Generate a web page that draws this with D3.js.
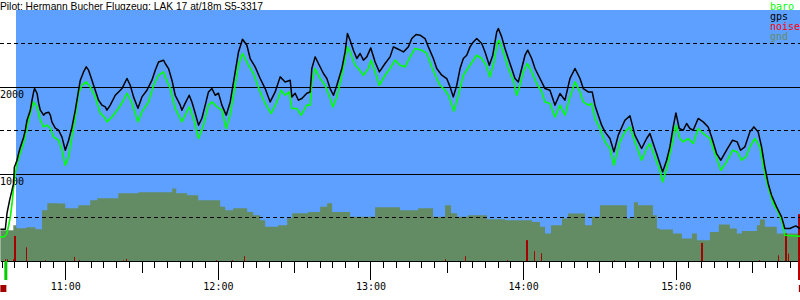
<!DOCTYPE html>
<html><head><meta charset="utf-8">
<script src="https://cdn.jsdelivr.net/npm/d3@7"></script>
<style>body{margin:0;background:#fff}svg{display:block}</style>
</head><body><svg id="c" width="800" height="300"></svg>
<script>
const titleText = "Pilot: Hermann Bucher Flugzeug: LAK 17 at/18m S5-3317";
const legendLabels = ["baro", "gps", "noise", "gnd"];
const gridLevels = [500, 1000, 1500, 2000, 2500];
const labelLevels = [1000, 2000];

const gps = [["10:34:28",371],["10:36:25",371],["10:37:05",555],["10:38:07",705],["10:39:41",900],["10:39:58",1084],["10:41:01",1164],["10:41:39",1245],["10:42:19",1314],["10:43:37",1429],["10:44:17",1509],["10:44:57",1624],["10:46:15",1739],["10:46:55",1854],["10:47:32",1946],["10:47:56",1988],["10:48:53",1934],["10:49:31",1820],["10:50:11",1739],["10:51:28",1682],["10:52:08",1705],["10:53:26",1716],["10:54:07",1682],["10:54:46",1601],["10:56:04",1532],["10:57:22",1509],["10:58:42",1429],["11:00:00",1279],["11:01:18",1394],["11:02:38",1544],["11:03:56",1739],["11:05:14",1969],["11:05:54",2084],["11:07:11",2179],["11:08:15",2237],["11:09:09",2199],["11:10:29",2084],["11:11:47",1969],["11:13:05",1854],["11:14:25",1797],["11:15:43",1777],["11:16:23",1739],["11:17:41",1797],["11:19:39",1911],["11:20:57",1949],["11:22:17",1988],["11:24:15",2103],["11:25:32",2026],["11:26:50",1892],["11:28:34",1762],["11:30:08",1892],["11:32:06",1969],["11:34:04",2084],["11:35:22",2199],["11:36:40",2294],["11:38:37",2314],["11:39:18",2276],["11:40:35",2218],["11:41:56",2084],["11:43:13",1911],["11:45:11",1797],["11:45:51",1739],["11:47:09",1820],["11:48:43",1911],["11:49:47",1834],["11:51:05",1705],["11:52:23",1567],["11:53:43",1647],["11:55:01",1797],["11:56:18",1949],["11:57:39",1988],["11:58:56",1911],["12:00:14",1934],["12:01:34",1797],["12:03:16",1682],["12:04:50",1834],["12:06:48",2179],["12:08:06",2409],["12:09:40",2555],["12:11:24",2486],["12:12:41",2333],["12:14:39",2237],["12:16:37",2103],["12:18:35",1988],["12:20:33",1834],["12:22:31",1949],["12:24:29",2122],["12:26:27",2064],["12:28:25",2084],["12:29:05",1892],["12:30:22",1934],["12:31:40",1854],["12:33:01",1874],["12:34:58",1934],["12:36:16",1949],["12:36:56",2218],["12:38:14",2352],["12:39:32",2276],["12:41:30",2161],["12:42:50",2103],["12:44:08",1988],["12:45:26",1911],["12:46:46",2026],["12:48:44",2218],["12:50:01",2409],["12:50:56",2621],["12:51:59",2544],["12:53:17",2429],["12:54:37",2333],["12:55:55",2391],["12:57:13",2314],["12:58:33",2352],["13:00:07",2455],["13:01:49",2294],["13:03:30",2179],["13:05:44",2276],["13:07:42",2352],["13:09:00",2467],["13:10:20",2448],["13:11:38",2429],["13:12:56",2409],["13:14:53",2467],["13:16:14",2563],["13:17:55",2609],["13:19:29",2601],["13:21:27",2563],["13:22:45",2467],["13:24:43",2333],["13:26:03",2218],["13:28:01",2141],["13:29:59",2103],["13:31:17",2007],["13:32:34",1892],["13:33:55",2026],["13:35:13",2218],["13:36:30",2333],["13:37:50",2371],["13:39:08",2467],["13:40:26",2524],["13:41:46",2563],["13:43:44",2505],["13:45:02",2409],["13:46:43",2256],["13:48:04",2371],["13:49:38",2639],["13:50:16",2678],["13:51:35",2582],["13:52:53",2448],["13:54:11",2333],["13:55:31",2218],["13:56:49",2103],["13:58:07",2064],["13:59:27",2218],["14:00:45",2371],["14:01:49",2429],["14:03:23",2333],["14:04:41",2218],["14:06:38",2103],["14:08:37",1988],["14:10:34",1969],["14:12:32",1797],["14:14:30",1931],["14:16:28",1854],["14:18:26",2103],["14:20:24",2218],["14:22:22",2103],["14:23:40",1988],["14:25:37",1949],["14:27:11",1949],["14:28:15",1797],["14:29:33",1682],["14:30:53",1567],["14:32:11",1490],["14:34:09",1414],["14:35:43",1260],["14:37:25",1452],["14:40:02",1624],["14:42:01",1674],["14:43:58",1452],["14:46:36",1299],["14:48:34",1414],["14:49:52",1471],["14:51:10",1356],["14:52:30",1241],["14:53:47",1126],["14:54:51",1030],["14:56:26",1164],["14:57:43",1317],["14:59:01",1547],["15:00:05",1708],["15:01:23",1529],["15:02:57",1509],["15:04:17",1586],["15:05:35",1529],["15:06:53",1509],["15:08:50",1644],["15:10:49",1605],["15:12:46",1547],["15:14:07",1432],["15:16:04",1241],["15:17:46",1164],["15:20:00",1279],["15:22:22",1394],["15:24:10",1375],["15:25:30",1279],["15:27:11",1317],["15:29:10",1490],["15:30:44",1547],["15:32:25",1490],["15:33:46",1317],["15:35:03",1087],["15:36:21",897],["15:37:41",762],["15:39:39",628],["15:41:37",513],["15:42:55",379],["15:44:53",379],["15:47:14",409],["15:48:49",379]];

const baro = [["10:34:28",283],["10:36:02",283],["10:37:05",325],["10:38:23",509],["10:39:04",670],["10:39:41",854],["10:40:21",1015],["10:41:01",1130],["10:42:19",1245],["10:43:37",1360],["10:44:57",1544],["10:46:15",1705],["10:47:32",1834],["10:48:53",1777],["10:50:11",1624],["10:51:28",1547],["10:52:49",1567],["10:54:07",1532],["10:55:24",1432],["10:57:22",1394],["10:58:42",1279],["11:00:00",1107],["11:01:18",1202],["11:02:38",1432],["11:03:56",1662],["11:05:14",1934],["11:06:34",2026],["11:08:15",2064],["11:09:49",2007],["11:11:47",1892],["11:13:45",1705],["11:15:43",1647],["11:16:23",1605],["11:18:21",1662],["11:20:57",1762],["11:22:55",1854],["11:24:15",1934],["11:26:13",1820],["11:28:34",1605],["11:30:08",1720],["11:32:44",1834],["11:34:42",2026],["11:36:40",2141],["11:38:37",2179],["11:39:18",2122],["11:41:16",1988],["11:43:13",1759],["11:45:51",1605],["11:48:43",1777],["11:50:25",1644],["11:52:23",1414],["11:54:20",1567],["11:56:18",1797],["11:57:39",1834],["11:59:37",1777],["12:01:34",1739],["12:03:16",1529],["12:04:50",1682],["12:06:48",2026],["12:08:06",2256],["12:09:40",2391],["12:12:02",2256],["12:14:00",2161],["12:16:37",1949],["12:18:35",1816],["12:20:57",1701],["12:23:11",1834],["12:24:52",1969],["12:26:27",1911],["12:28:01",1949],["12:29:05",1759],["12:31:03",1759],["12:32:44",1682],["12:34:58",1797],["12:36:16",1797],["12:36:56",2064],["12:38:14",2218],["12:40:12",2103],["12:42:10",2026],["12:44:08",1874],["12:45:11",1777],["12:46:46",1892],["12:48:44",2141],["12:50:01",2333],["12:50:56",2467],["12:51:59",2409],["12:53:57",2256],["12:55:15",2218],["12:57:13",2141],["12:59:11",2218],["13:00:14",2314],["13:01:49",2179],["13:03:30",2026],["13:05:44",2141],["13:07:42",2218],["13:09:40",2314],["13:11:38",2256],["13:13:36",2237],["13:15:34",2352],["13:17:32",2448],["13:20:10",2429],["13:22:08",2391],["13:24:05",2237],["13:26:03",2103],["13:27:21",2026],["13:29:19",1969],["13:30:37",1911],["13:32:51",1728],["13:34:32",1911],["13:36:30",2141],["13:39:08",2256],["13:41:46",2371],["13:43:44",2333],["13:45:25",2256],["13:46:59",2122],["13:48:34",2294],["13:49:52",2506],["13:50:32",2544],["13:52:13",2409],["13:54:11",2218],["13:56:09",2084],["13:57:29",1911],["13:58:47",2026],["14:00:05",2179],["14:01:39",2276],["14:03:23",2179],["14:05:20",2046],["14:07:19",1949],["14:08:37",1834],["14:10:34",1816],["14:12:32",1662],["14:14:30",1797],["14:16:28",1682],["14:18:26",1892],["14:20:24",2064],["14:22:22",1949],["14:23:40",1834],["14:25:37",1797],["14:26:58",1816],["14:28:15",1644],["14:30:13",1529],["14:32:11",1375],["14:34:09",1299],["14:35:43",1107],["14:38:05",1375],["14:40:02",1490],["14:42:01",1547],["14:43:58",1375],["14:46:36",1164],["14:48:34",1299],["14:49:52",1356],["14:51:50",1202],["14:53:47",1049],["14:54:51",915],["14:56:26",1069],["14:58:23",1317],["15:00:05",1567],["15:01:39",1414],["15:02:57",1375],["15:04:55",1414],["15:06:53",1356],["15:08:50",1529],["15:10:49",1471],["15:13:26",1414],["15:15:25",1241],["15:17:46",1049],["15:20:00",1145],["15:22:22",1279],["15:24:10",1260],["15:25:54",1164],["15:27:35",1202],["15:29:10",1317],["15:31:07",1414],["15:33:05",1317],["15:35:03",1011],["15:36:21",857],["15:38:19",667],["15:40:17",570],["15:42:01",437],["15:42:55",302],["15:48:49",291]];

const gnd = [["10:34:28",360],["10:39:34",417],["10:40:45",383],["10:44:41",395],["10:48:13",372],["10:50:51",590],["10:52:56",670],["10:57:15",667],["11:00:00",613],["11:05:07",647],["11:09:49",705],["11:12:34",728],["11:20:50",785],["11:28:41",797],["11:42:03",839],["11:43:37",785],["11:47:56",762],["11:52:16",705],["12:00:54",628],["12:02:52",590],["12:06:01",613],["12:11:31",570],["12:13:52",532],["12:16:37",475],["12:18:35",398],["12:23:41",417],["12:27:14",498],["12:29:12",555],["12:35:29",570],["12:40:12",628],["12:42:57",670],["12:44:55",570],["12:51:59",513],["13:01:49",624],["13:11:38",590],["13:18:42",613],["13:24:36",513],["13:29:19",647],["13:31:40",555],["13:34:02",513],["13:38:21",532],["13:45:49",487],["13:52:53",475],["14:03:30",455],["14:06:38",398],["14:08:37",322],["14:10:58",417],["14:15:17",494],["14:17:39",552],["14:24:19",417],["14:27:04",513],["14:30:13",647],["14:40:50",494],["14:43:35",680],["14:45:09",647],["14:51:03",532],["14:52:37",379],["14:53:47",368],["14:58:54",322],["15:02:26",264],["15:06:22",322],["15:08:20",245],["15:13:26",340],["15:16:59",425],["15:21:18",379],["15:24:03",322],["15:26:01",352],["15:31:55",417],["15:33:05",483],["15:35:03",398],["15:39:46",322],["15:48:49",322]];

const noise = [["10:36:19",26],["10:37:13",26],["10:39:22",26],["10:40:21",294],["10:44:24",164],["10:51:52",15],["11:03:32",53],["11:05:14",15],["11:22:40",15],["11:23:41",30],["11:59:04",15],["12:05:44",15],["12:10:27",61],["13:29:26",26],["13:37:17",61],["13:53:48",15],["14:01:39",245],["14:04:24",118],["14:07:09",95],["14:35:50",15],["15:10:11",214],["15:32:49",15],["15:40:02",72],["15:43:25",322],["15:44:05",90],["15:48:25",544]];

const takeoffTime = "10:36:02";
const landingTime = "15:48:25";
const fixTimes = ["10:34:28", "15:48:25"];

const W = 800, H = 300;
const parse = d3.timeParse("%H:%M:%S");
const x = d3.scaleTime().domain([parse("11:00:00"), parse("15:00:00")]).range([65.3, 675.7]);
const xFull = x.copy().domain([x.invert(0), x.invert(W)]).range([0, W]);
const y = d3.scaleLinear().domain([0, 1000]).range([261.5, 174.5]);
const X = d => x(parse(d[0]));
const Y = d => y(d[1]);
const svg = d3.select("#c");
const base = y(0);

// title
svg.append("text").attr("x", 0).attr("y", 9.5).attr("font-family", "Liberation Sans, Arial, sans-serif")
  .attr("font-size", 10.5).attr("textLength", 263).attr("lengthAdjust", "spacingAndGlyphs")
  .attr("fill", "#000").text(titleText);

// plot background
svg.append("rect").attr("x", 16).attr("y", 10).attr("width", W - 16).attr("height", base - 10.5).attr("fill", "#5ea0ff");

// ground area
svg.append("path").datum(gnd)
  .attr("d", d3.area().curve(d3.curveStepAfter).x(X).y0(base).y1(Y))
  .attr("fill", "#648c64");

// noise bars
svg.append("g").selectAll("rect").data(noise).join("rect")
  .attr("x", d => Math.round(X(d)) - (d[1] > 200 ? 1 : 0))
  .attr("width", d => d[1] > 200 ? 2 : 1)
  .attr("y", Y).attr("height", d => base - Y(d))
  .attr("fill", "#a50000");

// grid lines
const gy = v => Math.floor(y(v) - 0.5) + 0.5;
svg.append("g").selectAll("line").data(gridLevels).join("line")
  .attr("x1", 0).attr("x2", W).attr("y1", gy).attr("y2", gy)
  .attr("stroke", "#000").attr("stroke-width", 1)
  .attr("stroke-dasharray", d => d % 1000 === 0 ? null : "4,3");

// y labels
svg.append("g").selectAll("text").data(labelLevels).join("text")
  .attr("x", 0).attr("y", d => gy(d) + 10)
  .attr("font-family", "DejaVu Sans Mono, monospace").attr("font-size", 10)
  .attr("fill", "#000").text(d => d);

// altitude lines
const line = d3.line().x(X).y(Y);
svg.append("path").datum(baro).attr("d", line).attr("fill", "none")
  .attr("stroke", "#00ff00").attr("stroke-width", 1.6).attr("stroke-linejoin", "round");
svg.append("path").datum(gps).attr("d", line).attr("fill", "none")
  .attr("stroke", "#000").attr("stroke-width", 1.5).attr("stroke-linejoin", "round");

// x axes (5 min, 30 min, hour)
const ag = svg.append("g").attr("transform", `translate(0,${base - 0.5})`);
function axis(interval, size, labels) {
  const a = d3.axisBottom(xFull).ticks(interval).tickSize(size).tickSizeOuter(0).tickPadding(3)
    .tickFormat(labels ? d3.timeFormat("%H:%M") : () => "");
  const g = ag.append("g").call(a);
  g.selectAll("line").attr("stroke", "#000").attr("shape-rendering", "crispEdges");
  g.select(".domain").attr("stroke", "#000").attr("shape-rendering", "crispEdges");
  g.selectAll("text").attr("font-family", "DejaVu Sans Mono, monospace").attr("font-size", 10).attr("fill", "#000");
  return g;
}
axis(d3.timeMinute.every(5), 7, false);
axis(d3.timeMinute.every(30), 12, false).select(".domain").remove();
axis(d3.timeHour.every(1), 19, true).select(".domain").remove();

// takeoff / landing markers
svg.append("rect").attr("x", x(parse(takeoffTime))).attr("y", base - 0.5).attr("width", 3).attr("height", 19).attr("fill", "#00cc00");
svg.append("rect").attr("x", Math.round(x(parse(landingTime))) - 1).attr("y", base - 0.5).attr("width", 2).attr("height", 19).attr("fill", "#c00000");
svg.append("g").selectAll("rect").data(fixTimes).join("rect")
  .attr("x", d => Math.min(x(parse(d)), W - 1)).attr("y", 285).attr("width", 6).attr("height", 7).attr("fill", "#a00000");

// legend
const legendColors = ["#00ff00", "#000000", "#ff0000", "#648c64"];
svg.append("g").selectAll("text").data(legendLabels).join("text")
  .attr("x", 770).attr("y", (d, i) => 9.5 + i * 10)
  .attr("font-family", "DejaVu Sans Mono, monospace").attr("font-size", 10)
  .attr("fill", (d, i) => legendColors[i]).text(d => d);
</script></body></html>
